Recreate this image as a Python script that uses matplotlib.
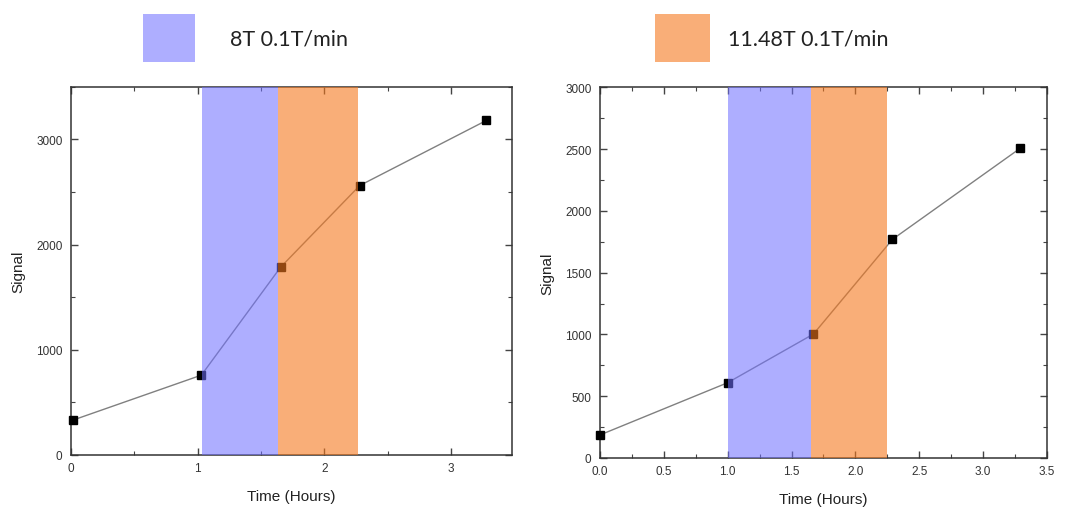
import numpy as np
import matplotlib.pyplot as plt
from matplotlib.patches import Rectangle
from matplotlib.ticker import MultipleLocator

plt.rcParams['font.family'] = ['Liberation Sans', 'DejaVu Sans']

# left run
t_left = [0.02, 1.03, 1.655, 2.28, 3.28]
sig_left = [333, 759, 1785, 2562, 3181]
blue_left = (1.036, 1.636)
orange_left = (1.636, 2.263)

# right run
t_right = [0.0, 1.0, 1.672, 2.29, 3.29]
sig_right = [186, 609, 1003, 1769, 2506]
blue_right = (1.005, 1.654)
orange_right = (1.654, 2.247)

legend_labels = ['8T 0.1T/min', '11.48T 0.1T/min']

blue_c = '#7070ff'
orange_c = '#f5781e'
span_alpha = 0.56

fig = plt.figure(figsize=(10.75, 5.1), dpi=100)
ax1 = fig.add_axes([0.066, 0.106, 0.410, 0.7216])
ax2 = fig.add_axes([0.558, 0.100, 0.416, 0.727])


def draw(ax, t, s, blue, orange):
    ax.plot(t, s, color='#808080', lw=1.0, zorder=2)
    ax.plot(t, s, ls='none', marker='s', ms=5.5, color='black', zorder=3, clip_on=False)
    ax.axvspan(blue[0], blue[1], color=blue_c, alpha=span_alpha, lw=0, zorder=4)
    ax.axvspan(orange[0], orange[1], color=orange_c, alpha=0.6, lw=0, zorder=4)
    ax.set_xlabel('Time (Hours)', fontsize=11, color='#222222', labelpad=11)
    ax.set_ylabel('Signal', fontsize=11, color='#222222', labelpad=8)
    ax.tick_params(which='both', direction='in', top=True, right=True,
                   labelsize=8.5, labelcolor='#333333', color='#444444', pad=5)
    ax.tick_params(axis='y', pad=6)
    ax.tick_params(which='major', length=5, width=1)
    ax.tick_params(which='minor', length=3, width=0.8)
    for sp in ax.spines.values():
        sp.set_color('#333333')
        sp.set_linewidth(1.1)


draw(ax1, t_left, sig_left, blue_left, orange_left)
ax1.set_xlim(0, 3.48)
ax1.set_ylim(0, 3500)
ax1.xaxis.set_major_locator(MultipleLocator(1))
ax1.xaxis.set_minor_locator(MultipleLocator(0.5))
ax1.yaxis.set_major_locator(MultipleLocator(1000))
ax1.yaxis.set_minor_locator(MultipleLocator(500))

draw(ax2, t_right, sig_right, blue_right, orange_right)
ax2.set_xlim(0, 3.5)
ax2.set_ylim(0, 3000)
ax2.xaxis.set_major_locator(MultipleLocator(0.5))
ax2.xaxis.set_minor_locator(MultipleLocator(0.25))
ax2.yaxis.set_major_locator(MultipleLocator(500))
ax2.yaxis.set_minor_locator(MultipleLocator(250))
ax2.xaxis.set_major_formatter(lambda v, p: f'{v:.1f}')

# legend boxes on top
W, H = 1075, 510
for (x0, x1), col, a, lab, tx in [((143, 195), blue_c, span_alpha, legend_labels[0], 230),
                                  ((655, 710), orange_c, 0.6, legend_labels[1], 728)]:
    fig.add_artist(Rectangle((x0 / W, 1 - 63 / H), (x1 - x0) / W, 48 / H,
                             transform=fig.transFigure, facecolor=col, alpha=a, lw=0))
    fig.text(tx / W, 1 - 40 / H, lab, fontsize=15.5, va='center', ha='left',
             family=['Lato', 'DejaVu Sans'], color='#222222')

fig.savefig('out.png', dpi=100)
